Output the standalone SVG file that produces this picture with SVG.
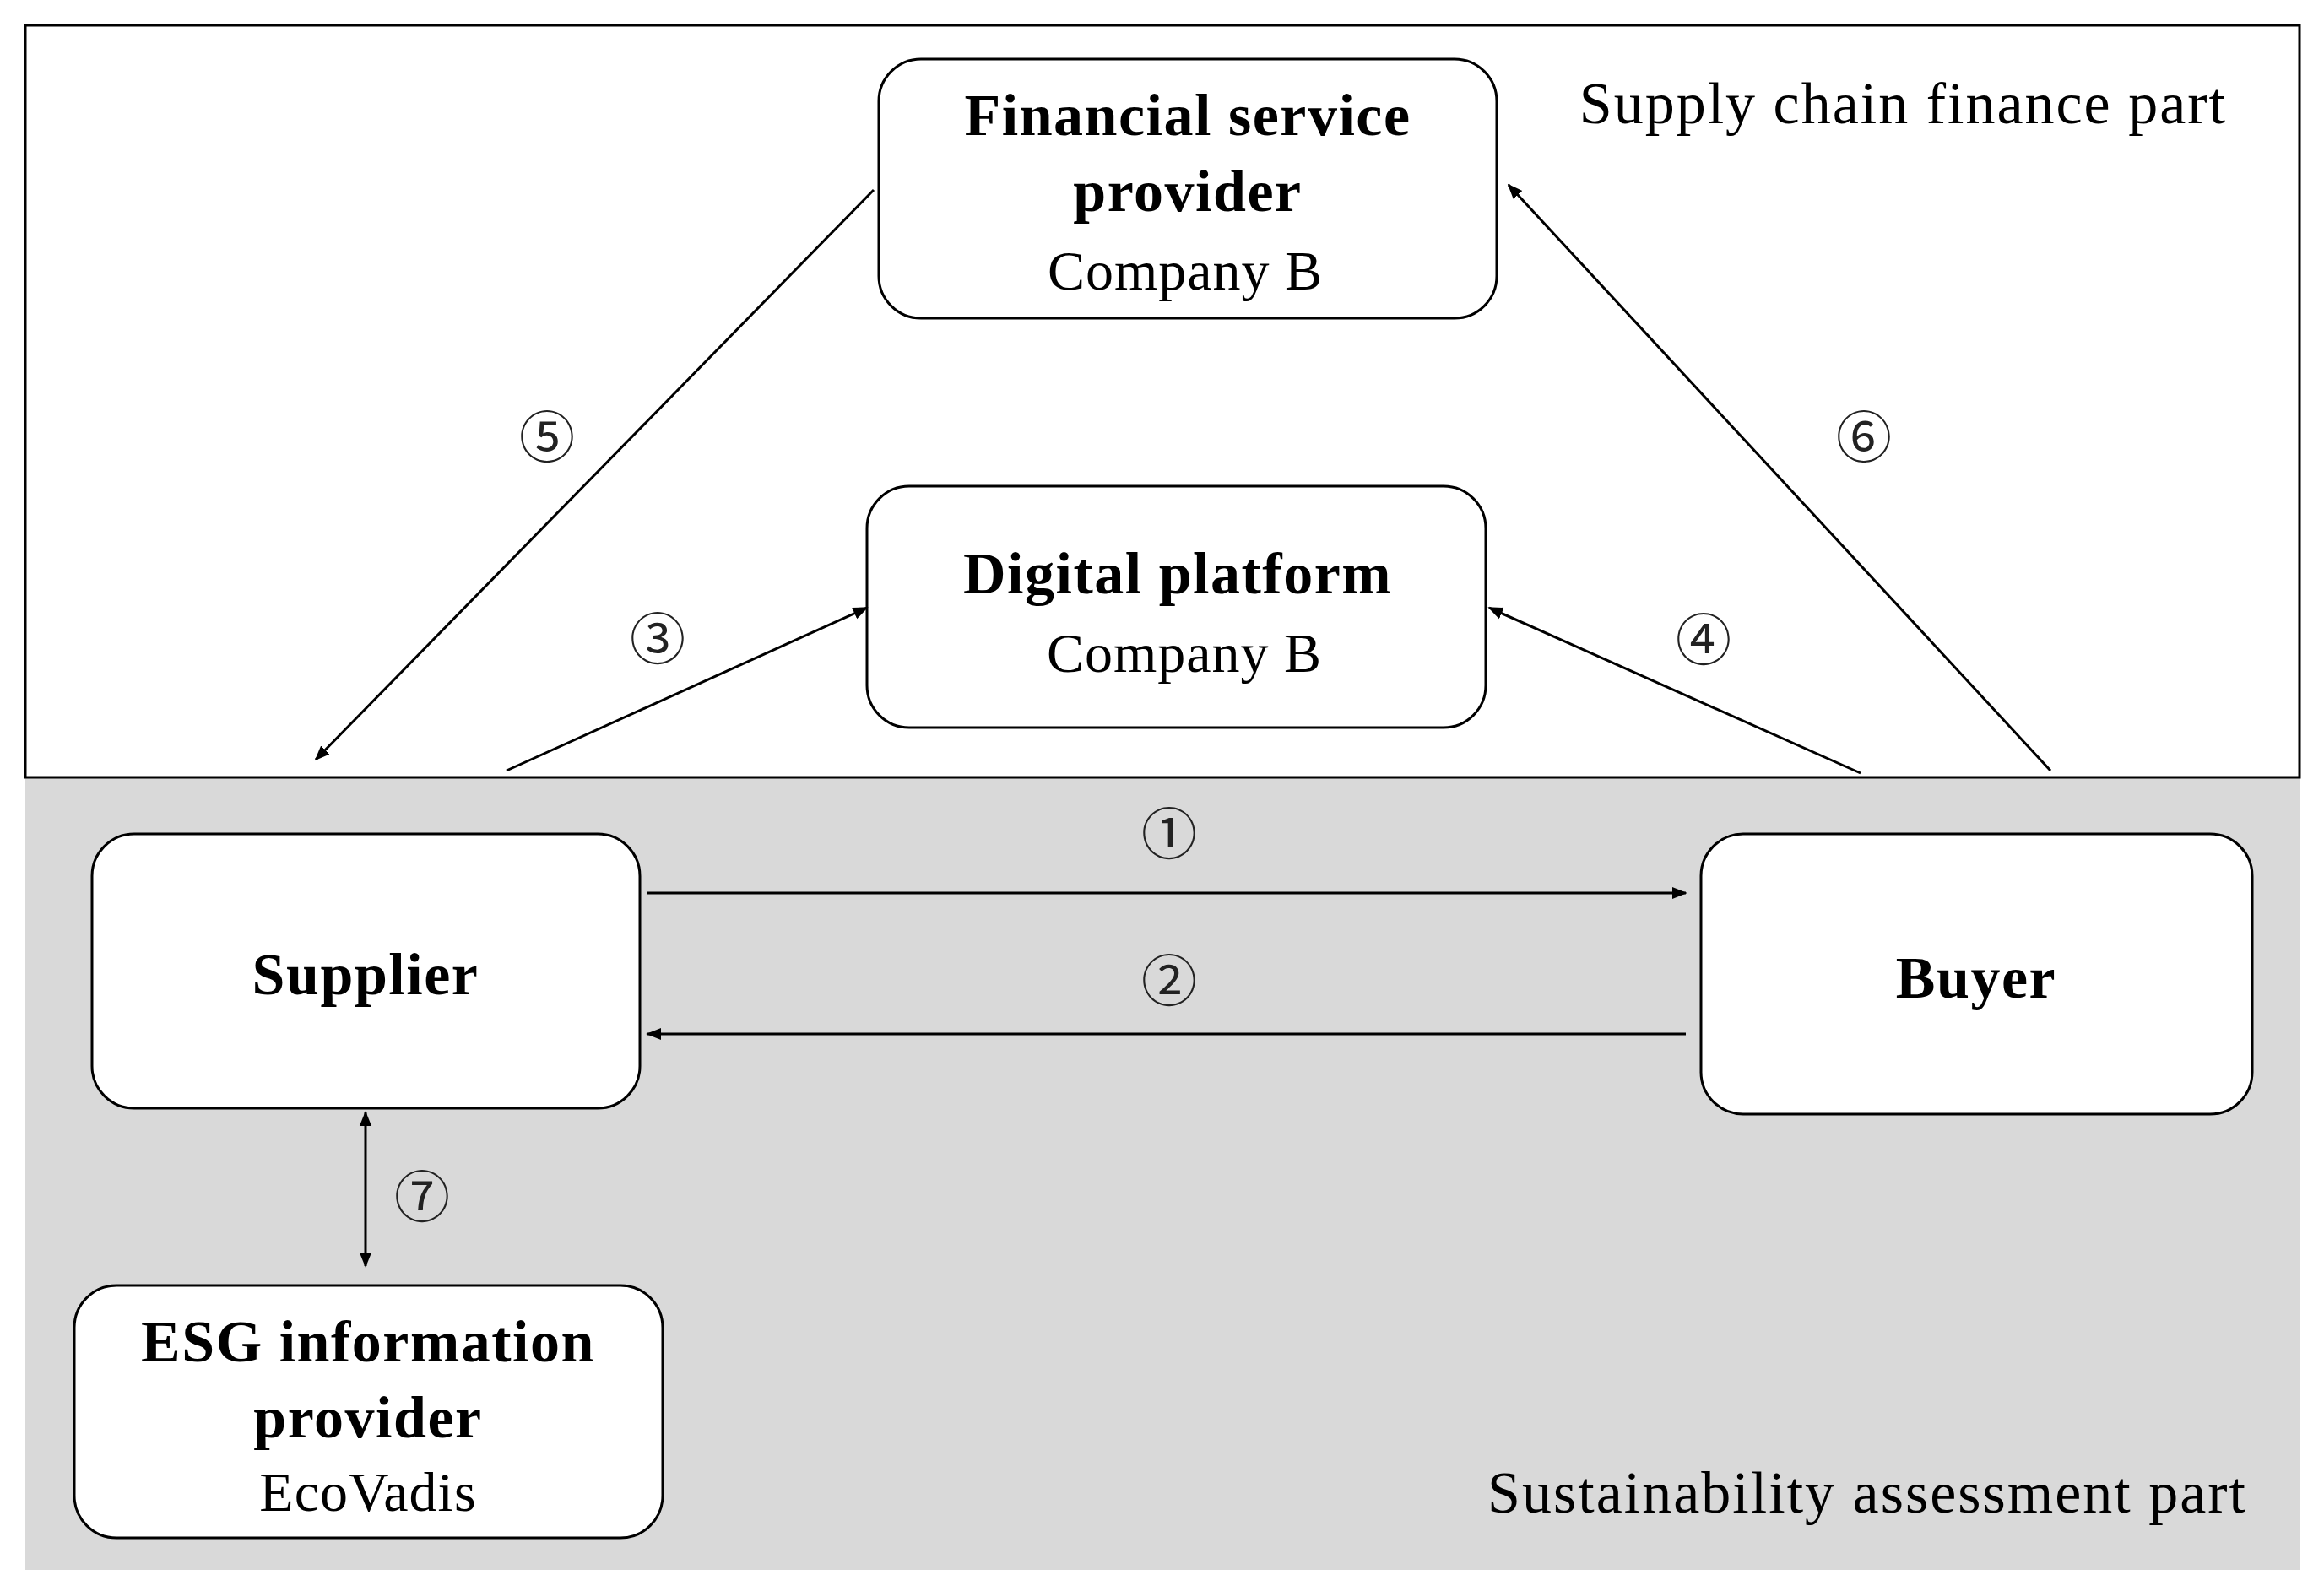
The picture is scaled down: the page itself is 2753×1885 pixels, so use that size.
<svg xmlns="http://www.w3.org/2000/svg" width="2753" height="1885" viewBox="0 0 2753 1885">
<style>
.node{fill:#fff;stroke:#000;stroke-width:3}
.b{font-family:"Liberation Serif",serif;font-weight:bold;font-size:70px;letter-spacing:1.5px;text-anchor:middle}
.r{font-family:"Liberation Serif",serif;font-size:66px;letter-spacing:1px;text-anchor:middle}
.l{font-family:"Liberation Serif",serif;font-size:70px;letter-spacing:2px;text-anchor:end}
.n{font-family:"Noto Sans CJK JP","DejaVu Sans",sans-serif;font-size:66px;text-anchor:middle;fill:#222}
.c{stroke:#000;stroke-width:3;fill:none;marker-end:url(#a)}
</style>
<defs><marker id="a" viewBox="0 0 10 10" refX="9" refY="5" markerWidth="6" markerHeight="6" orient="auto-start-reverse"><path d="M0,1 L10,5 L0,9 z" fill="#000"/></marker></defs>
<rect width="2753" height="1885" fill="#fff"/>
<rect x="30" y="921" width="2694" height="939" fill="#d9d9d9"/>
<rect x="30" y="30" width="2694" height="891" fill="#fff" stroke="#000" stroke-width="3"/>
<text class="l" x="2638" y="146">Supply chain finance part</text>
<text class="l" x="2662" y="1792">Sustainability assessment part</text>
<g id="fsp"><rect class="node" x="1041" y="70" width="732" height="307" rx="50"/><text class="b" x="1407" y="160">Financial service</text><text class="b" x="1407" y="250">provider</text><text class="r" x="1404" y="343">Company B</text></g>
<g id="dp"><rect class="node" x="1027" y="576" width="733" height="286" rx="50"/><text class="b" x="1395" y="703">Digital platform</text><text class="r" x="1403" y="796">Company B</text></g>
<g id="supplier"><rect class="node" x="109" y="988" width="649" height="325" rx="50"/><text class="b" x="433" y="1178">Supplier</text></g>
<g id="buyer"><rect class="node" x="2015" y="988" width="653" height="332" rx="50"/><text class="b" x="2341" y="1182">Buyer</text></g>
<g id="esg"><rect class="node" x="88" y="1523" width="697" height="299" rx="50"/><text class="b" x="436" y="1613">ESG information</text><text class="b" x="436" y="1703">provider</text><text class="r" x="436" y="1790">EcoVadis</text></g>
<g id="connectors">
<line class="c" x1="1035" y1="225" x2="374" y2="900"/>
<line class="c" x1="600" y1="913" x2="1027" y2="720"/>
<line class="c" x1="2204" y1="916" x2="1764" y2="720"/>
<line class="c" x1="2429" y1="913" x2="1787" y2="219"/>
<line class="c" x1="767" y1="1058" x2="1997" y2="1058"/>
<line class="c" x1="1997" y1="1225" x2="767" y2="1225"/>
<line class="c" x1="433" y1="1318" x2="433" y2="1500" style="marker-start:url(#a)"/>
<text class="n" x="648" y="542">⑤</text>
<text class="n" x="779" y="781">③</text>
<text class="n" x="2018" y="782">④</text>
<text class="n" x="2208" y="542">⑥</text>
<text class="n" x="1385" y="1012">①</text>
<text class="n" x="1385" y="1186">②</text>
<text class="n" x="500" y="1442">⑦</text>
</g>
</svg>
